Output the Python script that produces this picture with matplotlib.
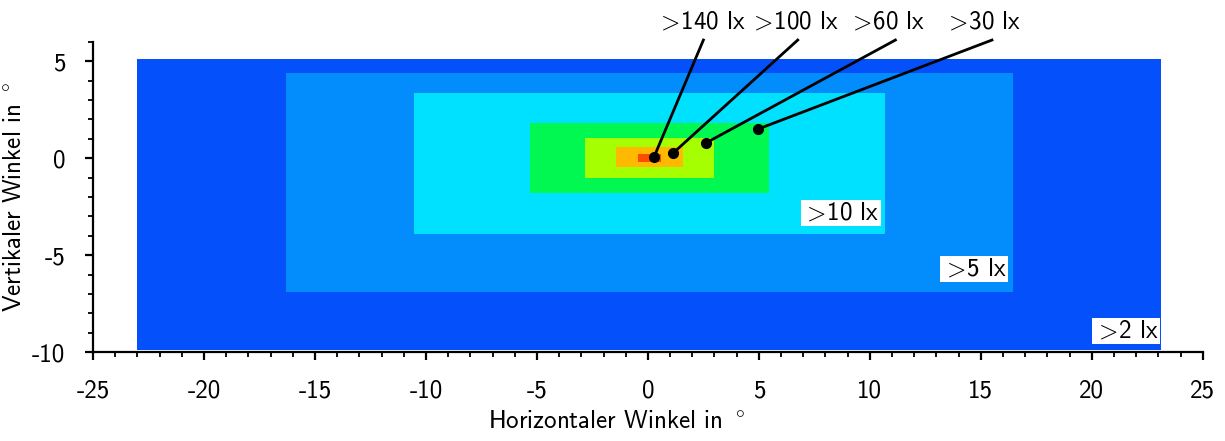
import matplotlib
matplotlib.use("Agg")
import matplotlib.pyplot as plt
from matplotlib.patches import Rectangle
from matplotlib.ticker import MultipleLocator

plt.rcParams['font.family'] = ['cmss10', 'DejaVu Sans']
plt.rcParams['mathtext.fontset'] = 'cm'
plt.rcParams['axes.unicode_minus'] = False

# illuminance zones, outermost first: x0, x1, y0, y1 in degrees
zone_labels = ['>2 lx', '>5 lx', '>10 lx', '>30 lx', '>60 lx', '>100 lx', '>140 lx']
zone_x0 = [-23.0, -16.3, -10.55, -5.3, -2.85, -1.45, -0.45]
zone_x1 = [23.1, 16.45, 10.7, 5.45, 3.0, 1.6, 0.6]
zone_y0 = [-9.9, -6.9, -3.9, -1.8, -1.0, -0.47, -0.17]
zone_y1 = [5.1, 4.4, 3.35, 1.8, 1.05, 0.57, 0.22]
zone_colors = ['#0450fb', '#038cfc', '#00e0ff', '#00f850', '#a6ff00', '#ffb900', '#ff4b00']

# marker points for the inner zones (callouts)
dot_x = [0.27, 1.13, 2.6, 4.95]
dot_y = [0.05, 0.26, 0.78, 1.5]
dot_labels = ['>140 lx', '>100 lx', '>60 lx', '>30 lx']
callout_x = [2.5, 6.75, 11.15, 15.5]
callout_y = 6.1
callout_text_x = [2.4, 6.6, 10.75, 15.1]
callout_text_y = 7.05

# boxed labels for the outer zones
box_labels = ['>10 lx', '>5 lx', '>2 lx']
box_x = [8.7, 14.7, 21.55]
box_y = [-2.85, -5.7, -8.9]

FS = 18


def tex(s):
    return s.replace('>', r'$>\!$')


fig = plt.figure(figsize=(12.25, 4.41), dpi=100)
ax = fig.add_axes([0.0759, 0.2018, 0.906, 0.703])

for x0, x1, y0, y1, c in zip(zone_x0, zone_x1, zone_y0, zone_y1, zone_colors):
    ax.add_patch(Rectangle((x0, y0), x1 - x0, y1 - y0, facecolor=c, edgecolor='none'))

for dx, dy, cx, tx, lab in zip(dot_x, dot_y, callout_x, callout_text_x, dot_labels):
    ax.plot([dx, cx], [dy, callout_y], color='black', lw=2, clip_on=False)
    ax.plot(dx, dy, 'o', color='black', ms=7)
    ax.text(tx, callout_text_y, tex(lab), ha='center', va='center', fontsize=FS,
            clip_on=False)

for bx, by, lab in zip(box_x, box_y, box_labels):
    ax.text(bx, by, tex(lab), ha='center', va='center', fontsize=FS,
            bbox=dict(facecolor='white', edgecolor='none', pad=1))

ax.set_xlim(-25, 25)
ax.set_ylim(-10, 6)
ax.xaxis.set_major_locator(MultipleLocator(5))
ax.xaxis.set_minor_locator(MultipleLocator(1))
ax.yaxis.set_major_locator(MultipleLocator(5))
ax.yaxis.set_minor_locator(MultipleLocator(1))

for side in ['top', 'right']:
    ax.spines[side].set_visible(False)
for side in ['left', 'bottom']:
    ax.spines[side].set_linewidth(1.6)

ax.tick_params(which='major', direction='out', length=6, width=1.6, labelsize=FS, pad=14)
ax.tick_params(which='minor', direction='out', length=3.5, width=1.3)

ax.set_xlabel(r'Horizontaler Winkel in $^\circ$', fontsize=FS, labelpad=5, x=0.472)
ax.set_ylabel(r'Vertikaler Winkel in $^\circ$', fontsize=FS, labelpad=4)

fig.savefig('out.png', dpi=100)
